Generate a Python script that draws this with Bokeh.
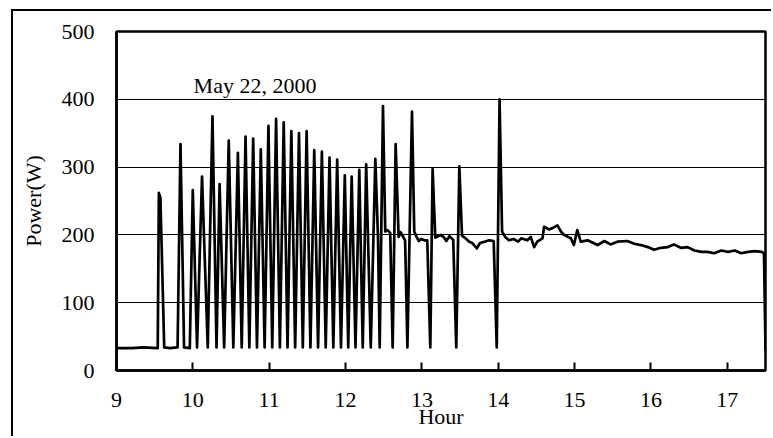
from bokeh.plotting import figure
from bokeh.models import FixedTicker, Label, Range1d
from bokeh.embed import file_html
from bokeh.resources import INLINE

# ---- data ----
hours = [
    9.00, 9.20, 9.35, 9.54, 9.555, 9.565, 9.575, 9.625, 9.70, 9.80,
    9.838, 9.885, 9.96, 9.999, 10.055, 10.12, 10.195, 10.257, 10.31, 10.35,
    10.41, 10.47, 10.53, 10.59, 10.64, 10.69, 10.74, 10.79, 10.84, 10.89,
    10.94, 10.99, 11.04, 11.09, 11.14, 11.19, 11.24, 11.29, 11.34, 11.39,
    11.44, 11.49, 11.54, 11.59, 11.64, 11.69, 11.74, 11.79, 11.84, 11.89,
    11.94, 11.99, 12.035, 12.08, 12.13, 12.18, 12.225, 12.27, 12.33, 12.39,
    12.425, 12.447, 12.49, 12.52, 12.55, 12.585, 12.617, 12.656, 12.695, 12.72,
    12.75, 12.78, 12.81, 12.87, 12.90, 12.93, 12.96, 12.99, 13.03, 13.07,
    13.11, 13.14, 13.175, 13.21, 13.25, 13.29, 13.32, 13.36, 13.41, 13.45,
    13.49, 13.525, 13.57, 13.62, 13.66, 13.72, 13.76, 13.82, 13.88, 13.94,
    13.98, 14.017, 14.05, 14.09, 14.14, 14.20, 14.26, 14.30, 14.38, 14.425,
    14.47, 14.51, 14.58, 14.60, 14.665, 14.71, 14.775, 14.82, 14.86, 14.95,
    14.99, 15.035, 15.08, 15.17, 15.30, 15.39, 15.47, 15.56, 15.69, 15.78,
    15.87, 15.96, 16.04, 16.13, 16.22, 16.30, 16.39, 16.48, 16.57, 16.66,
    16.74, 16.83, 16.92, 17.01, 17.10, 17.18, 17.27, 17.36, 17.45, 17.48,
    17.50,
]
power = [
    33, 33, 34, 33, 262, 258, 255, 34, 33, 34,
    334, 34, 33, 266, 34, 286, 34, 375, 34, 275,
    34, 339, 34, 321, 34, 345, 34, 342, 34, 326,
    34, 361, 34, 371, 34, 366, 34, 353, 34, 350,
    34, 353, 34, 325, 34, 323, 34, 314, 34, 311,
    34, 288, 34, 286, 34, 296, 34, 304, 34, 312,
    195, 34, 390, 205, 207, 203, 34, 334, 197, 204,
    198, 192, 34, 382, 205, 197, 191, 194, 192, 192,
    34, 297, 196, 198, 200, 196, 191, 198, 193, 34,
    301, 199, 195, 190, 188, 180, 188, 190, 192, 191,
    34, 400, 205, 197, 192, 194, 190, 195, 192, 197,
    182, 190, 195, 212, 208, 210, 214, 205, 200, 195,
    185, 207, 190, 192, 185, 191, 186, 190, 191, 187,
    185, 182, 178, 181, 182, 186, 181, 182, 177, 175,
    175, 173, 177, 175, 177, 173, 175, 176, 175, 173,
    30,
]
x_ticks = [9, 10, 11, 12, 13, 14, 15, 16, 17]
y_ticks = [0, 100, 200, 300, 400, 500]
annotation = "May 22, 2000"
x_label = "Hour"
y_label = "Power(W)"

FONT = "Liberation Serif"
FS = "22px"

p = figure(
    width=760, height=427,
    output_backend="svg", toolbar_location=None,
    x_range=Range1d(9, 17.5), y_range=Range1d(0, 500),
    min_border_left=103, min_border_right=8,
    min_border_top=20, min_border_bottom=68,
    background_fill_color="white", border_fill_color="white",
    styles={"border-left": "2px solid black", "border-top": "2px solid black",
            "margin-left": "11px", "margin-top": "9px"},
)

p.line(hours, power, line_color="black", line_width=2.7, line_join="round")

p.outline_line_color = "black"
p.outline_line_width = 2.5

# x axis
xa = p.xaxis[0]
xa.ticker = FixedTicker(ticks=x_ticks)
xa.major_tick_in = 8
xa.major_tick_out = 0
xa.major_tick_line_width = 2
xa.major_tick_line_color = "black"
xa.minor_tick_line_color = None
xa.axis_line_width = 2.5
xa.axis_line_color = "black"
xa.major_label_text_font = FONT
xa.major_label_text_font_size = FS
xa.major_label_text_color = "black"
xa.major_label_standoff = 22
xa.axis_label = x_label
xa.axis_label_text_font = FONT
xa.axis_label_text_font_size = FS
xa.axis_label_text_font_style = "normal"
xa.axis_label_text_color = "black"
xa.axis_label_standoff = -6

# y axis
ya = p.yaxis[0]
ya.ticker = FixedTicker(ticks=y_ticks)
ya.major_tick_line_color = None
ya.minor_tick_line_color = None
ya.axis_line_width = 2.5
ya.axis_line_color = "black"
ya.major_label_text_font = FONT
ya.major_label_text_font_size = FS
ya.major_label_text_color = "black"
ya.major_label_standoff = 16
ya.axis_label = y_label
ya.axis_label_text_font = FONT
ya.axis_label_text_font_size = FS
ya.axis_label_text_font_style = "normal"
ya.axis_label_text_color = "black"
ya.axis_label_standoff = 13

p.xgrid.visible = False
p.ygrid.ticker = FixedTicker(ticks=y_ticks)
p.ygrid.grid_line_color = "black"
p.ygrid.grid_line_width = 1

p.add_layout(Label(x=10.01, y=421, text=annotation, text_font=FONT,
                   text_font_size=FS, text_color="black",
                   text_baseline="alphabetic"))

open("out.html", "w").write(file_html(p, INLINE))
